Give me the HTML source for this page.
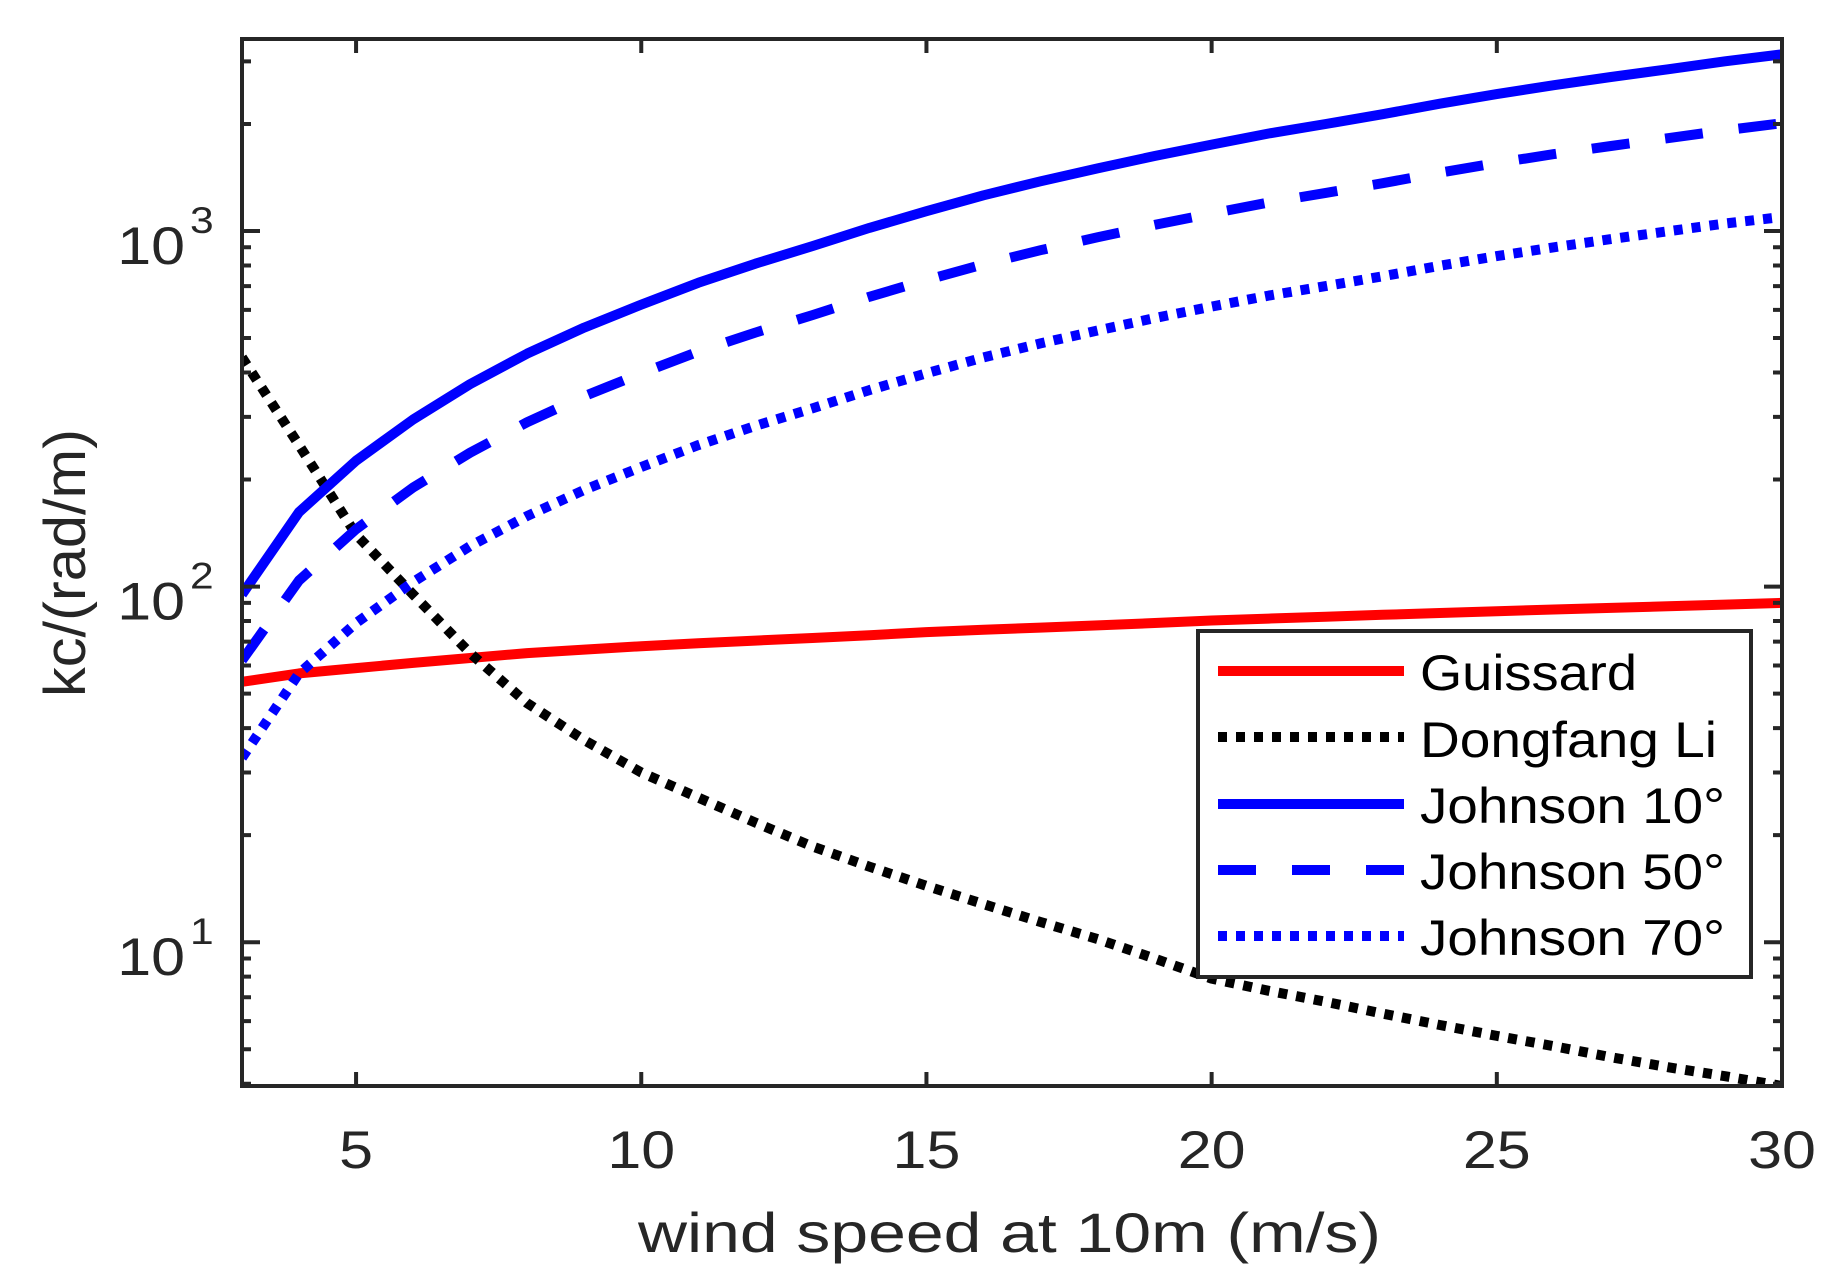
<!DOCTYPE html>
<html><head><meta charset="utf-8"><style>
html,body{margin:0;padding:0;background:#fff;}
svg{display:block;font-family:"Liberation Sans",Arial,sans-serif;}
</style></head><body>
<svg id="chart" width="1835" height="1284" viewBox="0 0 1835 1284" xmlns="http://www.w3.org/2000/svg">
<rect width="1835" height="1284" fill="#fff"/>
<g id="marks"></g>
<g id="axes"></g>
<g id="legend">
  <rect x="1198" y="631" width="553" height="346" fill="#fff" stroke="#262626" stroke-width="4"/>
  <line x1="1218" y1="671" x2="1404" y2="671" stroke="#ff0000" stroke-width="10"/>
  <line x1="1218" y1="737" x2="1404" y2="737" stroke="#000" stroke-width="10" stroke-dasharray="9 9"/>
  <line x1="1218" y1="804" x2="1404" y2="804" stroke="#0000ff" stroke-width="10"/>
  <line x1="1218" y1="870" x2="1404" y2="870" stroke="#0000ff" stroke-width="10" stroke-dasharray="38 36"/>
  <line x1="1218" y1="936" x2="1404" y2="936" stroke="#0000ff" stroke-width="10" stroke-dasharray="9 9"/>
  <text x="1420" y="690" font-size="50" textLength="217" lengthAdjust="spacingAndGlyphs">Guissard</text>
  <text x="1420" y="757" font-size="50" textLength="297" lengthAdjust="spacingAndGlyphs">Dongfang Li</text>
  <text x="1420" y="823" font-size="50" textLength="305" lengthAdjust="spacingAndGlyphs">Johnson 10°</text>
  <text x="1420" y="889" font-size="50" textLength="305" lengthAdjust="spacingAndGlyphs">Johnson 50°</text>
  <text x="1420" y="955" font-size="50" textLength="305" lengthAdjust="spacingAndGlyphs">Johnson 70°</text>
</g>
<text x="638" y="1252" font-size="56" fill="#262626" textLength="743" lengthAdjust="spacingAndGlyphs">wind speed at 10m (m/s)</text>
<text transform="translate(85,697) rotate(-90)" font-size="58" fill="#262626" textLength="268" lengthAdjust="spacingAndGlyphs">kc/(rad/m)</text>
</svg>
<script>
const windSpeeds = [3,4,5,6,7,8,9,10,11,12,13,14,15,16,17,18,19,20,21,22,23,24,25,26,27,28,29,30];
const guissard = [54,57,59,61,63,65,66.5,68,69.3,70.5,71.7,73,74.5,75.6,76.7,77.8,79,80.3,81.3,82.3,83.3,84.3,85.3,86.2,87.1,88,89,90];
const dongfangLi = [441,250,140,95,65,47,37,30,25.5,21.7,18.6,16.3,14.4,12.8,11.4,10.2,9,7.9,7.3,6.8,6.3,5.85,5.45,5.1,4.75,4.45,4.2,3.94];
const johnson10 = [95,162,226,295,371,452,535,621,715,809,907,1020,1137,1260,1380,1500,1625,1750,1880,2000,2130,2280,2427,2570,2710,2850,3000,3140];
const johnson50 = [62,104,145,190,238,290,343,398,458,518,580,653,728,806,883,960,1040,1120,1203,1280,1363,1459,1553,1645,1734,1824,1920,2010];
const johnson70 = [33,57,79,103,130,158,187,217,250,283,317,357,398,441,483,525,569,613,658,700,746,798,850,900,949,998,1050,1095];
const xTicks = [5,10,15,20,25,30];
const yDecades = [1,2,3];

const NS = 'http://www.w3.org/2000/svg';
const L = 242, R = 1782, T = 39, B = 1086;
const xMin = 3, xMax = 30;
const y3 = 231, dec = 355.6;
function xs(v){ return L + (v - xMin) / (xMax - xMin) * (R - L); }
function ys(v){ return y3 - (Math.log10(v) - 3) * dec; }
const yMinV = Math.pow(10, 3 - (B - y3) / dec), yMaxV = Math.pow(10, 3 + (y3 - T) / dec);

function mk(tag, attrs, parent){
  const e = document.createElementNS(NS, tag);
  for (const k in attrs) e.setAttribute(k, attrs[k]);
  parent.appendChild(e);
  return e;
}
const marks = document.getElementById('marks');
const clip = mk('clipPath', {id:'plotclip'}, marks);
mk('rect', {x:L, y:T-6, width:R-L+6, height:B-T+6}, clip);
const seriesList = [
  {name:'series-guissard', vals:guissard, color:'#ff0000', dash:''},
  {name:'series-dongfang-li', vals:dongfangLi, color:'#000000', dash:'9 9'},
  {name:'series-johnson-10', vals:johnson10, color:'#0000ff', dash:''},
  {name:'series-johnson-50', vals:johnson50, color:'#0000ff', dash:'38 36'},
  {name:'series-johnson-70', vals:johnson70, color:'#0000ff', dash:'9 9'}
];
seriesList.forEach(s => {
  const pts = windSpeeds.map((x,i) => xs(x).toFixed(1) + ',' + ys(s.vals[i]).toFixed(1)).join(' ');
  const p = mk('polyline', {points:pts, fill:'none', stroke:s.color, 'stroke-width':10, 'stroke-linejoin':'round', 'clip-path':'url(#plotclip)'}, marks);
  if (s.dash) p.setAttribute('stroke-dasharray', s.dash);
  
  
});

const axes = document.getElementById('axes');
const frame = mk('rect', {x:L, y:T, width:R-L, height:B-T, fill:'none', stroke:'#262626', 'stroke-width':4}, axes);


xTicks.forEach(t => {
  const x = xs(t);
  const tk = mk('path', {d:`M${x},${B}V${B-14}M${x},${T}V${T+14}`, stroke:'#262626', 'stroke-width':4}, axes);
  
  
  const lb = mk('text', {transform:`translate(${x},1168) scale(1.15,1)`, 'text-anchor':'middle', 'font-size':53, fill:'#262626'}, axes);
  lb.textContent = String(t);
  
  
});
for (let d = 0; d <= 4; d++) {
  for (let m = 1; m <= 9; m++) {
    const v = m * Math.pow(10, d);
    if (v < yMinV || v > yMaxV) continue;
    const y = ys(v);
    const len = m === 1 ? 18 : 9;
    const tk = mk('path', {d:`M${L},${y}H${L+len}M${R},${y}H${R-len}`, stroke:'#262626', 'stroke-width':4}, axes);
    
    
  }
}
yDecades.forEach(e => {
  const y = ys(Math.pow(10, e));
  const g = mk('text', {transform:`translate(185,${y+33}) scale(1.15,1)`, 'text-anchor':'end', 'font-size':53, fill:'#262626'}, axes);
  g.textContent = '10';
  
  
  const s = mk('text', {transform:`translate(190,${y+2}) scale(1.15,1)`, 'font-size':37, fill:'#262626'}, axes);
  s.textContent = String(e);
  
  
});
</script>
</body></html>
